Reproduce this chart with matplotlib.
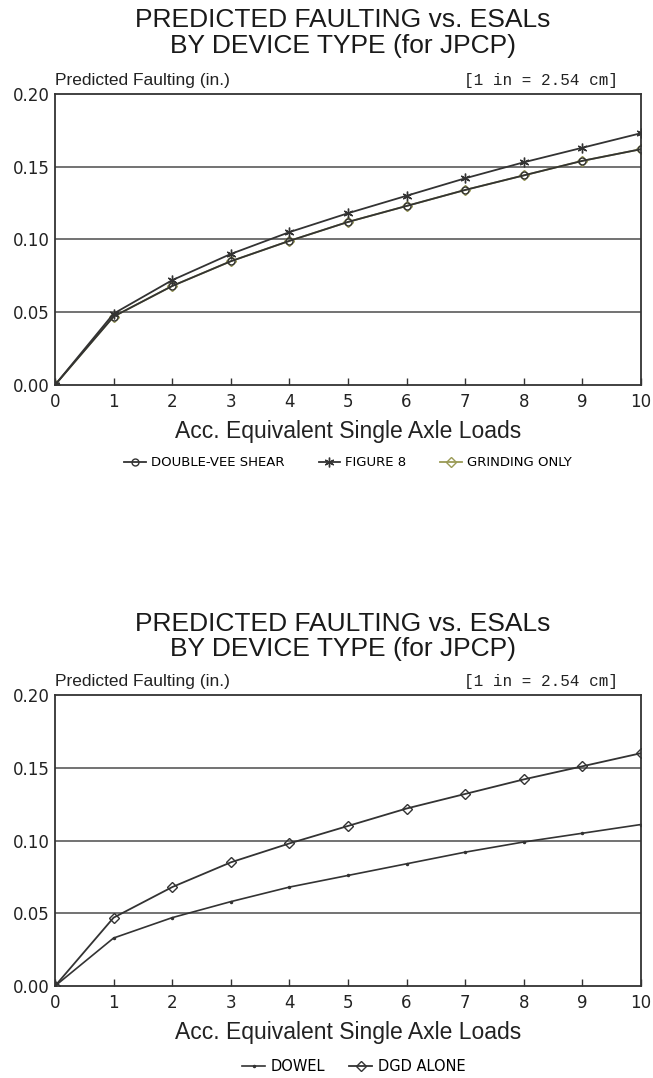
import matplotlib
matplotlib.use("Agg")
import matplotlib.pyplot as plt

plt.rcParams['font.family'] = ['Liberation Sans', 'DejaVu Sans']

esals = [0, 1, 2, 3, 4, 5, 6, 7, 8, 9, 10]

# top chart
double_vee = [0, 0.047, 0.068, 0.085, 0.099, 0.112, 0.123, 0.134, 0.144, 0.154, 0.162]
figure_8 = [0, 0.049, 0.072, 0.090, 0.105, 0.118, 0.130, 0.142, 0.153, 0.163, 0.173]
grinding = [0, 0.047, 0.068, 0.085, 0.099, 0.112, 0.123, 0.134, 0.144, 0.154, 0.162]

# bottom chart
dowel = [0, 0.033, 0.047, 0.058, 0.068, 0.076, 0.084, 0.092, 0.099, 0.105, 0.111]
dgd_alone = [0, 0.047, 0.068, 0.085, 0.098, 0.110, 0.122, 0.132, 0.142, 0.151, 0.160]

title1 = 'PREDICTED FAULTING vs. ESALs'
title2 = 'BY DEVICE TYPE (for JPCP)'
yticks = [0.00, 0.05, 0.10, 0.15, 0.20]

fig = plt.figure(figsize=(6.53, 10.78), dpi=100)


def setup_axes(ax, title_y):
    ax.set_xlim(0, 10)
    ax.set_ylim(0, 0.20)
    ax.set_xticks(esals)
    ax.set_xticklabels([str(v) for v in esals], fontsize=12, color='#222222',
                       family='DejaVu Sans')
    ax.set_yticks(yticks)
    ax.set_yticklabels(['%.2f' % v for v in yticks], fontsize=12, color='#222222',
                       family='DejaVu Sans')
    ax.tick_params(axis='x', direction='in', length=5, width=1, pad=6, color='#333333')
    ax.tick_params(axis='y', length=0, pad=4)
    for v in yticks[1:-1]:
        ax.axhline(v, color='#5a5a5a', lw=1.2, zorder=1)
    for s in ax.spines.values():
        s.set_color('#333333')
        s.set_linewidth(1.3)
    ax.set_xlabel('Acc. Equivalent Single Axle Loads', fontsize=16.5, color='#222222', labelpad=6)
    ax.text(0.0, 1.02, 'Predicted Faulting (in.)', transform=ax.transAxes,
            fontsize=12.5, ha='left', va='bottom', color='#222222')
    ax.text(0.96, 1.02, '[1 in = 2.54 cm]', transform=ax.transAxes,
            fontsize=11.5, ha='right', va='bottom', color='#222222',
            family='Liberation Mono')
    fig.text(0.525, title_y, title1, ha='center', va='center', fontsize=19, color='#1a1a1a')
    fig.text(0.525, title_y - 0.0235, title2, ha='center', va='center', fontsize=19, color='#1a1a1a')


ax1 = fig.add_axes([0.0842, 0.6429, 0.8974, 0.2700])
setup_axes(ax1, 0.981)
ax1.plot(esals, grinding, color='#9a9a55', lw=1.3, marker='D', ms=5, mfc='none', label='GRINDING ONLY', zorder=2)
ax1.plot(esals, double_vee, color='#333333', lw=1.3, marker='o', ms=5, mfc='none', label='DOUBLE-VEE SHEAR', zorder=3)
ax1.plot(esals, figure_8, color='#333333', lw=1.3, marker=(6, 2, 0), ms=7, label='FIGURE 8', zorder=3)
h, l = ax1.get_legend_handles_labels()
order = [1, 2, 0]
ax1.legend([h[i] for i in order], [l[i] for i in order], loc='upper center',
           bbox_to_anchor=(0.5, -0.205), ncol=3, frameon=False,
           prop={'family': 'DejaVu Sans', 'size': 9.5},
           handlelength=1.6, handletextpad=0.4, columnspacing=2.6)

ax2 = fig.add_axes([0.0842, 0.0853, 0.8974, 0.2700])
setup_axes(ax2, 0.4215)
ax2.plot(esals, dowel, color='#333333', lw=1.2, marker='.', ms=3, label='DOWEL', zorder=3)
ax2.plot(esals, dgd_alone, color='#333333', lw=1.3, marker='D', ms=5, mfc='none', label='DGD ALONE', zorder=3)
ax2.legend(loc='upper center', bbox_to_anchor=(0.51, -0.205), ncol=2, frameon=False,
           prop={'family': 'DejaVu Sans', 'size': 10.5},
           handlelength=1.6, handletextpad=0.4, columnspacing=1.6)

fig.savefig('out.png', dpi=100)
